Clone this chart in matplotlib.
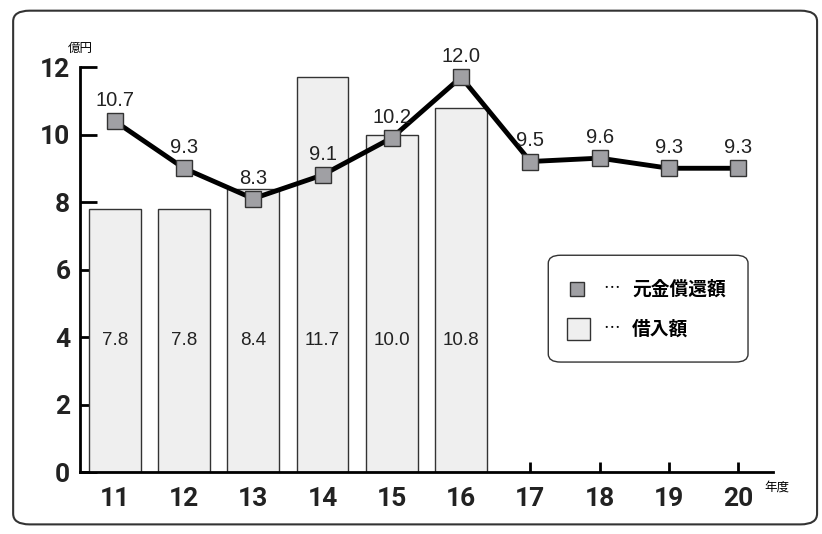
import matplotlib
matplotlib.use('Agg')
import matplotlib.pyplot as plt
from matplotlib.patches import FancyBboxPatch, Rectangle

plt.rcParams['font.family'] = ['Liberation Sans', 'Noto Sans CJK JP', 'DejaVu Sans']

# データ
years = [11, 12, 13, 14, 15, 16, 17, 18, 19, 20]
bar_years = [11, 12, 13, 14, 15, 16]
borrow = [7.8, 7.8, 8.4, 11.7, 10.0, 10.8]          # 借入額
borrow_labels = ['7.8', '7.8', '8.4', '11.7', '10.0', '10.8']
repay = [10.4, 9.0, 8.1, 8.8, 9.9, 11.7, 9.2, 9.3, 9.0, 9.0]   # 元金償還額 (図上の位置)
repay_labels = ['10.7', '9.3', '8.3', '9.1', '10.2', '12.0', '9.5', '9.6', '9.3', '9.3']
yticks = [0, 2, 4, 6, 8, 10, 12]

fig = plt.figure(figsize=(8.22, 5.34), dpi=100)

# 外枠
frame = FancyBboxPatch((0.016, 0.018), 0.978, 0.962, boxstyle='round,pad=0,rounding_size=0.02',
                       transform=fig.transFigure, fill=False, edgecolor='#333333', linewidth=1.5)
fig.patches.append(frame)

ax = fig.add_axes([0.0973, 0.1161, 0.843, 0.7584])
ax.set_xlim(10.5, 20.5)
ax.set_ylim(0, 12)

ax.bar(bar_years, borrow, width=0.75, color='#efefef', edgecolor='#333333', linewidth=1, zorder=2)
for x, lab in zip(bar_years, borrow_labels):
    ax.text(x, 3.9, lab, ha='center', va='center', fontsize=13.5, color='#222222', zorder=3)

ax.plot(years, repay, color='black', linewidth=3.5, marker='s', markersize=11,
        markerfacecolor='#a0a0a4', markeredgecolor='#333333', markeredgewidth=1, zorder=4)
for x, y, lab in zip(years, repay, repay_labels):
    ax.annotate(lab, (x, y), xytext=(0, 8), textcoords='offset points',
                ha='center', va='bottom', fontsize=14.5, color='#222222', zorder=5)

for s in ['top', 'right']:
    ax.spines[s].set_visible(False)
ax.spines['left'].set_linewidth(2)
ax.spines['bottom'].set_linewidth(2)
ax.set_yticks(yticks)
ax.set_xticks(years)
ax.tick_params(axis='y', direction='in', length=12, width=2, pad=7)
ax.tick_params(axis='x', direction='in', length=7, width=2, pad=11)
for lab in ax.get_xticklabels() + ax.get_yticklabels():
    lab.set_fontsize(19)
    lab.set_fontweight('bold')
    lab.set_family(['Roboto', 'DejaVu Sans'])
    lab.set_color('#222222')

ax.text(0.0, 1.03, '億円', transform=ax.transAxes, ha='center', va='bottom',
        fontsize=9, family=['Noto Sans CJK JP'])
ax.text(1.006, -0.037, '年度', transform=ax.transAxes, ha='center', va='center',
        fontsize=9, family=['Noto Sans CJK JP'])

# 凡例
leg = FancyBboxPatch((0.667, 0.322), 0.243, 0.2, boxstyle='round,pad=0,rounding_size=0.015',
                     transform=fig.transFigure, facecolor='white', edgecolor='#333333',
                     linewidth=1, zorder=6)
fig.patches.append(leg)
fig.lines.append(plt.Line2D([0.702], [0.459], marker='s', markersize=10, markerfacecolor='#a0a0a4',
                            markeredgecolor='#333333', markeredgewidth=1, transform=fig.transFigure,
                            zorder=7))
fig.patches.append(Rectangle((0.690, 0.363), 0.028, 0.041, transform=fig.transFigure,
                             facecolor='#efefef', edgecolor='#333333', linewidth=1, zorder=7))
for yy, name in [(0.459, '元金償還額'), (0.384, '借入額')]:
    fig.text(0.7336, yy, '…', ha='left', va='center', fontsize=12,
             family=['Noto Sans CJK JP'], zorder=8)
    fig.text(0.769, yy, name, ha='left', va='center', fontsize=13.5, fontweight='bold',
             family=['Noto Sans CJK JP'], zorder=8)

fig.savefig('out.png', dpi=100)
